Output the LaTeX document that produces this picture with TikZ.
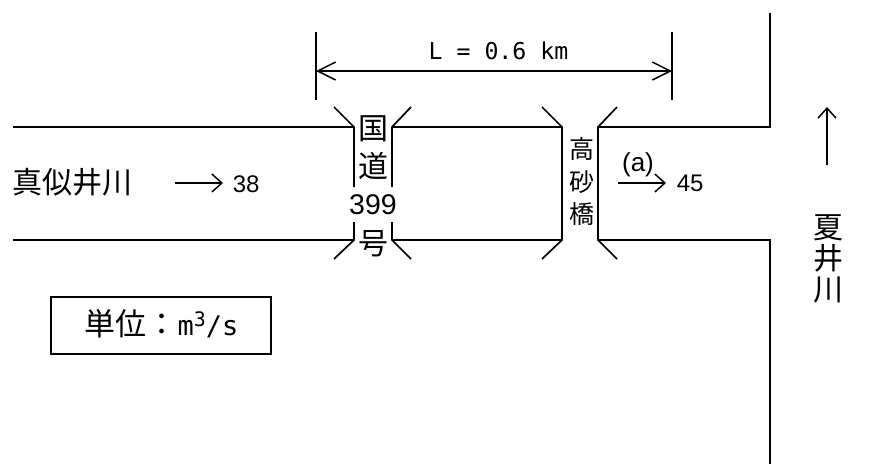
\documentclass[tikz,border=0pt]{standalone}
\usepackage{fontspec}
\setmainfont{Liberation Sans}
\setmonofont{DejaVu Sans Mono}
\newfontfamily\jpfont{Noto Sans CJK JP}
\usetikzlibrary{arrows.meta,positioning}

\begin{document}
\begin{tikzpicture}[
            x=1pt, y=-1pt,
            line width=1.7pt,
            node distance=0pt,
        % Stacked and running labels
            jplbl/.style={inner sep=0pt, align=center, font=\fontsize{30}{38}\selectfont\jpfont},
            brlbl/.style={inner sep=0pt, align=center, font=\fontsize{25}{32.5}\selectfont\jpfont},
            riverlbl/.style={inner sep=0pt, align=center, font=\fontsize{30}{31}\selectfont\jpfont},
            numlbl/.style={inner sep=0pt, font=\fontsize{24}{26}\selectfont},
            monolbl/.style={inner sep=0pt, font=\fontsize{23.2}{25}\selectfont\ttfamily},
            unitbox/.style={draw, minimum width=220pt, minimum height=57pt, inner sep=0pt},
            bank/.style={line join=miter},
            flow/.style={-{Straight Barb[length=10pt,width=18pt]}, line width=1.5pt},
            dim/.style={{Straight Barb[length=18pt,width=18pt]}-{Straight Barb[length=18pt,width=18pt]}, line width=1.5pt}
        ]
\useasboundingbox (0,0) rectangle (873,464);

% --- bank corners ---
            \coordinate (ulend) at (13,127);
            \coordinate (llend) at (13,240);
            \coordinate (rau) at (354,127);
            \coordinate (rbu) at (392,127);
            \coordinate (ral) at (354,240);
            \coordinate (rbl) at (392,240);
            \coordinate (tau) at (562,127);
            \coordinate (tbu) at (598,127);
            \coordinate (tal) at (562,240);
            \coordinate (tbl) at (598,240);
            \coordinate (uend) at (770,13);
            \coordinate (lend) at (770,464);

% --- river banks ---
            \draw[bank] (ulend) -- (rau);
            \draw[bank] (llend) -- (ral);
            \draw[bank] (rbu) -- (tau);
            \draw[bank] (rbl) -- (tal);
            \draw[bank] (tbu) -| (uend);
            \draw[bank] (tbl) -| (lend);

% --- road bridge ---
            \draw[bank] (334,107) -- (rau) -- (354,187);
            \draw[bank] (411,107) -- (rbu) -- (392,187);
            \draw[bank] (354,222) -- (ral) -- (334,259);
            \draw[bank] (392,222) -- (rbl) -- (411,259);

% --- takasago bridge ---
            \draw[bank] (542,107) -- (tau) -- (tal) -- (542,259);
            \draw[bank] (617,107) -- (tbu) -- (tbl) -- (617,259);

% --- section length ---
            \coordinate (dimlt) at (316,32);
            \coordinate (dimlb) at (316,100);
            \coordinate (dimrt) at (672,32);
            \coordinate (dimrb) at (672,100);
            \coordinate (dimla) at (316,71);
            \coordinate (dimra) at (672,71);
            \draw (dimlt) -- (dimlb);
            \draw (dimrt) -- (dimrb);
            \draw[dim] (dimla) -- (dimra);
            \node[monolbl] (seclen) at (498.5,51) {L = 0.6 km};

% --- labels ---
            \node[riverlbl] (mane) at (72.5,182) {真似井川};
            \node[jplbl] (kokudo) at (373,148) {国\\道};
            \node[numlbl, font=\fontsize{28.5}{30}\selectfont] (rno) at (373,205) {399};
            \node[jplbl] (go) at (373,244) {号};
            \node[brlbl] (taka) at (582,181.5) {高\\砂\\橋};
            \node[riverlbl] (natsui) at (828,259) {夏\\井\\川};

% --- flows ---
            \coordinate (fa) at (175,183);
            \coordinate (fb) at (223,183);
            \node[numlbl, anchor=west] (qa) at (232,184) {38};
            \draw[flow] (fa) -- (fb);
            \coordinate (fc) at (618,183);
            \coordinate (fd) at (666,183);
            \node[numlbl, anchor=west] (qb) at (676,183) {45};
            \node[numlbl, font=\fontsize{26}{28}\selectfont] (pta) at (638,165) {(a)};
            \draw[flow] (fc) -- (fd);
            \coordinate (fe) at (827,165);
            \coordinate (ff) at (827,107);
            \draw[flow] (fe) -- (ff);

% --- unit box ---
            \node[unitbox] (unit) at (161,325.5) {};
            \node[inner sep=0pt] (unittxt) at (161.5,324) {\fontsize{31}{33}\selectfont\jpfont 単位：\fontsize{27}{29}\selectfont\ttfamily m\raisebox{9pt}{\fontsize{20}{22}\selectfont 3}/s};
\end{tikzpicture}
\end{document}
